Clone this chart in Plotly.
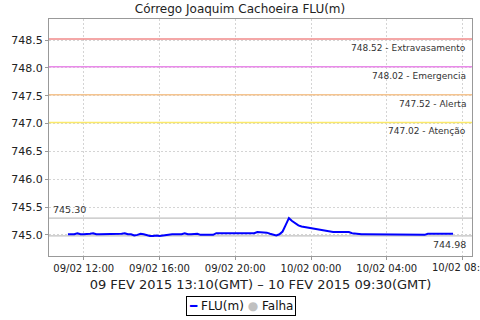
import plotly.graph_objects as go
import pandas as pd

title = "Córrego Joaquim Cachoeira FLU(m)"
xaxis_title = "09 FEV 2015 13:10(GMT) – 10 FEV 2015 09:30(GMT)"

start_time = "2015-02-09 11:10"
step_minutes = 10
flu_values = [
    745.01, 745.01, 745.01, 745.03, 745.01, 745.01, 745.01, 745.02, 745.03, 745.01,
    745.01, 745.01, 745.01, 745.01, 745.01, 745.01, 745.01, 745.02, 745.03, 745.01,
    745.01, 744.99, 745.00, 745.02, 745.01, 744.99, 744.98, 744.98, 744.99, 744.98,
    744.99, 745.00, 745.01, 745.01, 745.01, 745.01, 745.01, 745.03, 745.01, 745.01,
    745.01, 745.02, 745.00, 745.00, 745.00, 745.00, 745.00, 745.03, 745.03, 745.03,
    745.03, 745.03, 745.03, 745.03, 745.03, 745.03, 745.03, 745.03, 745.03, 745.03,
    745.05, 745.05, 745.05, 745.04, 745.02, 745.00, 744.99, 745.01, 745.06, 745.18,
    745.30, 745.25, 745.21, 745.17, 745.15, 745.14, 745.13, 745.12, 745.10, 745.09,
    745.08, 745.07, 745.06, 745.06, 745.05, 745.05, 745.05, 745.05, 745.05, 745.05,
    745.03, 745.02, 745.01, 745.01, 745.01, 745.01, 745.01, 745.01, 745.01, 745.01,
    745.01, 745.01, 745.01, 745.01, 745.01, 745.01, 745.01, 745.01, 745.01, 745.01,
    745.01, 745.01, 745.01, 745.00, 745.02, 745.02, 745.02, 745.02, 745.02, 745.02,
    745.02, 745.02, 745.02,
]
times = pd.date_range(start_time, periods=len(flu_values), freq=f"{step_minutes}min")

threshold_values = [748.52, 748.02, 747.52, 747.02]
threshold_names = ["Extravasamento", "Emergencia", "Alerta", "Atenção"]
threshold_colors = ["#f08a8a", "#e98ae9", "#f5c48f", "#fbe96a"]

legend_names = ["FLU(m)", "Falha"]
legend_colors = ["#0000ff", "#c0c0c0"]

max_value = max(flu_values)
min_value = min(flu_values)

x_range = ["2015-02-09 10:10", "2015-02-10 08:30"]
y_range = [744.62, 748.88]
x_tick_start = "2015-02-09 12:00"
last_tick = "2015-02-10 08:00"
y_ticks = [745.0, 745.5, 746.0, 746.5, 747.0, 747.5, 748.0, 748.5]

FONT = "DejaVu Sans"

fig = go.Figure()
fig.add_trace(go.Scatter(x=times, y=flu_values, mode="lines", name=legend_names[0],
                         line=dict(color=legend_colors[0], width=2), showlegend=False))

shapes = []
annotations = []
for v, n, c in zip(threshold_values, threshold_names, threshold_colors):
    shapes.append(dict(type="line", xref="paper", x0=0, x1=1, yref="y", y0=v, y1=v,
                       line=dict(color=c, width=1.5), layer="above"))
    annotations.append(dict(xref="paper", x=0.99, yref="y", y=v, yanchor="top", xanchor="right",
                            yshift=-2, showarrow=False, text=f"{v:.2f} - {n}",
                            font=dict(family=FONT, size=9, color="#333333")))
for v in [max_value, min_value]:
    shapes.append(dict(type="line", xref="paper", x0=0, x1=1, yref="y", y0=v, y1=v,
                       line=dict(color="#c0c0c0", width=1.2), layer="below"))
annotations.append(dict(xref="paper", x=0.005, yref="y", y=max_value, yanchor="bottom",
                        xanchor="left", yshift=1, showarrow=False, text=f"{max_value:.2f}",
                        font=dict(family=FONT, size=9.5, color="#333333")))
annotations.append(dict(xref="paper", x=0.99, yref="y", y=min_value, yanchor="top",
                        xanchor="right", yshift=-1, showarrow=False, text=f"{min_value:.2f}",
                        font=dict(family=FONT, size=9.5, color="#333333")))
# clipped last tick label (overflows the page on the right, as in the original)
annotations.append(dict(xref="x", x=last_tick, yref="paper", y=0, yanchor="top",
                        xanchor="center", yshift=-4, showarrow=False, text="10/02 08:00",
                        font=dict(family=FONT, size=10, color="#222222")))
# legend box
legend_text = (f"<span style='color:{legend_colors[0]}'>━</span> {legend_names[0]} "
               f"<span style='color:{legend_colors[1]}'>●</span> {legend_names[1]}")
annotations.append(dict(xref="paper", x=0.454, yref="paper", y=-0.211, xanchor="center",
                        yanchor="middle", showarrow=False, text=legend_text,
                        bordercolor="black", borderwidth=1, borderpad=2, bgcolor="white",
                        font=dict(family=FONT, size=12, color="#111111")))

fig.update_layout(
    width=480, height=320,
    margin=dict(l=49, r=8, t=19, b=64),
    paper_bgcolor="white", plot_bgcolor="white",
    font=dict(family=FONT, size=11, color="#333333"),
    title=dict(text=title, x=0.5, xref="container", xanchor="center", y=0.985, yanchor="top",
               font=dict(family=FONT, size=12, color="#222222")),
    showlegend=False,
    shapes=shapes, annotations=annotations,
)
fig.update_xaxes(
    range=x_range, tickformat="%d/%m %H:%M", tick0=x_tick_start, dtick=4 * 3600 * 1000,
    showgrid=True, gridcolor="#d4d4d4", griddash="2px,2px", gridwidth=1,
    showline=True, linecolor="#999999", mirror=True, ticks="outside", ticklen=3,
    tickcolor="#999999", zeroline=False,
    tickfont=dict(family=FONT, size=10, color="#222222"),
    title=dict(text=xaxis_title, standoff=6,
               font=dict(family=FONT, size=13, color="#222222")),
)
fig.update_yaxes(
    range=y_range, tickvals=y_ticks, ticktext=[f"{t:.1f}" for t in y_ticks],
    showgrid=True, gridcolor="#d4d4d4", griddash="2px,2px", gridwidth=1,
    showline=True, linecolor="#999999", mirror=True, ticks="outside", ticklen=3,
    tickcolor="#999999", zeroline=False,
    tickfont=dict(family=FONT, size=11, color="#222222"),
)

fig.write_html("out.html")
